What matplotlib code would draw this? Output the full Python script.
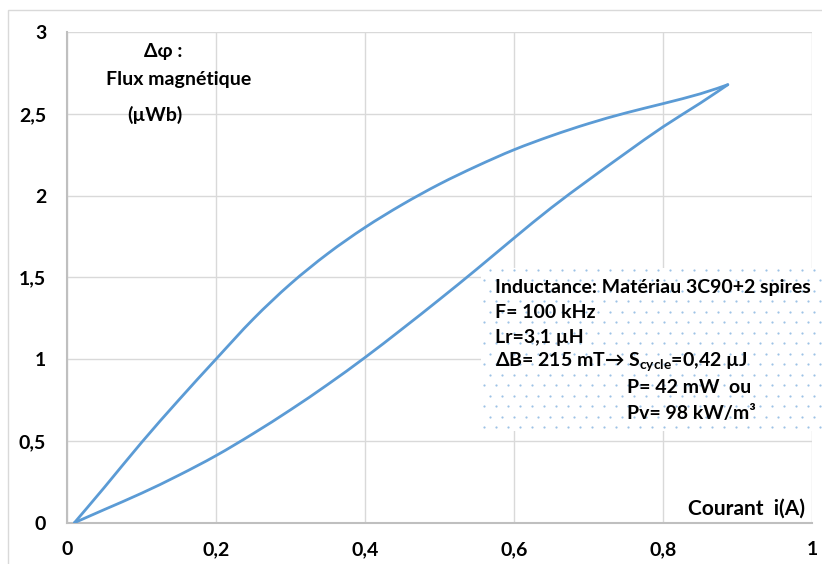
import matplotlib
matplotlib.use("Agg")
import numpy as np
import matplotlib.pyplot as plt
from matplotlib.patches import Rectangle, PathPatch
from matplotlib.path import Path

plt.rcParams['font.family'] = ['Lato', 'DejaVu Sans']
plt.rcParams['mathtext.fontset'] = 'custom'
plt.rcParams['mathtext.rm'] = 'Lato:bold'
plt.rcParams['mathtext.bf'] = 'Lato:bold'

# courant i (A) et flux (µWb) -- branche haute et branche basse du cycle
upper_i = [0.01, 0.05, 0.10, 0.15, 0.20, 0.25, 0.30, 0.35, 0.40, 0.45, 0.50,
           0.55, 0.60, 0.65, 0.70, 0.75, 0.80, 0.85, 0.887]
upper_phi = [0.0, 0.215, 0.49, 0.75, 1.00, 1.245, 1.46, 1.645, 1.805, 1.945, 2.07,
             2.18, 2.28, 2.365, 2.44, 2.505, 2.562, 2.622, 2.678]

lower_i = [0.01, 0.05, 0.10, 0.15, 0.20, 0.25, 0.30, 0.35, 0.40, 0.45, 0.50,
           0.55, 0.60, 0.65, 0.70, 0.75, 0.80, 0.85, 0.887]
lower_phi = [0.0, 0.08, 0.18, 0.29, 0.41, 0.545, 0.69, 0.845, 1.01, 1.185, 1.365,
             1.55, 1.74, 1.925, 2.095, 2.26, 2.42, 2.565, 2.678]

x_ticks = [0, 0.2, 0.4, 0.6, 0.8, 1]
x_labels = ["0", "0,2", "0,4", "0,6", "0,8", "1"]
y_ticks = [0, 0.5, 1, 1.5, 2, 2.5, 3]
y_labels = ["0", "0,5", "1", "1,5", "2", "2,5", "3"]

ylabel_lines = ["Δφ :", "Flux magnétique", "(µWb)"]

info_lines = ["Inductance: Matériau 3C90+2 spires",
              "F= 100 kHz",
              "Lr=3,1 µH",
              r"ΔB= 215 mT→ S$_{\mathbf{cycle}}$=0,42 µJ",
              "P= 42 mW  ou",
              "Pv= 98 kW/m³"]

BLUE = '#5b9bd5'
FS = 14


def smooth_path(x, y):
    # courbe lissée (Catmull-Rom -> Bézier) comme la ligne lissée d'Excel
    p = np.column_stack([x, y])
    verts = [p[0]]
    codes = [Path.MOVETO]
    for k in range(len(p) - 1):
        p0 = p[k - 1] if k > 0 else p[k]
        p3 = p[k + 2] if k + 2 < len(p) else p[k + 1]
        c1 = p[k] + (p[k + 1] - p0) / 6
        c2 = p[k + 1] - (p3 - p[k]) / 6
        verts += [c1, c2, p[k + 1]]
        codes += [Path.CURVE4] * 3
    return Path(verts, codes)


W, H = 822, 564
fig = plt.figure(figsize=(W / 100, H / 100), dpi=100)
ax = fig.add_axes([67 / W, 1 - 522.7 / H, 745 / W, (522.7 - 32) / H])

# cadre de la zone graphique
fig.patches.append(Rectangle((8 / W, -0.1), 1.2, 1 - 10 / H + 0.1,
                             transform=fig.transFigure, fill=False,
                             edgecolor='#d9d9d9', lw=1.0, zorder=0))

for xs, ys in [(upper_i, upper_phi), (lower_i, lower_phi)]:
    ax.add_patch(PathPatch(smooth_path(xs, ys), fill=False, edgecolor=BLUE,
                           lw=2.0, capstyle='round', zorder=3))

ax.set_xlim(0, 1)
ax.set_ylim(0, 3)
ax.set_xticks(x_ticks, x_labels)
ax.set_yticks(y_ticks, y_labels)
ax.tick_params(length=0, labelsize=FS, colors='black')
ax.tick_params(axis='x', pad=13)
ax.tick_params(axis='y', pad=15)
for lab in ax.get_xticklabels() + ax.get_yticklabels():
    lab.set_fontweight('bold')
ax.grid(True, color='#d9d9d9', lw=1.0)
ax.set_axisbelow(True)
for s in ['top', 'right']:
    ax.spines[s].set_visible(False)
for s in ['left', 'bottom']:
    ax.spines[s].set_color('#bfbfbf')
    ax.spines[s].set_linewidth(1.5)

# titre de l'axe vertical (3 lignes)
for txt, cx, base in zip(ylabel_lines, [163, 179, 155], [57, 85, 121]):
    fig.text(cx / W, 1 - base / H, txt, ha='center', va='baseline',
             fontsize=FS, fontweight='bold')
fig.text(805 / W, 1 - 515 / H, "Courant  i(A)", ha='right', va='baseline',
         fontsize=15, fontweight='bold')

# encadré pointillé
bx = fig.add_axes([481 / W, 1 - 431 / H, (W - 481) / W, (431 - 268) / H], zorder=4)
bx.set_xlim(0, W - 481)
bx.set_ylim(0, 431 - 268)
bx.axis('off')
bx.add_patch(Rectangle((0, 0), W - 481, 431 - 268, facecolor='white',
                       edgecolor='none', zorder=0))
rows = np.arange(4, 431 - 268, 10.5)
for r, yy in enumerate(rows):
    xx = np.arange(3 + (r % 2) * 6, W - 481, 12)
    bx.plot(xx, np.full_like(xx, yy, dtype=float), ls='none', marker='o', ms=1.6,
            mew=0, color='#9dc3e6', zorder=1)

y0 = 287
for k, line in enumerate(info_lines):
    xpix = 495 if k < 4 else 627
    fig.text(xpix / W, 1 - (y0 + 25.2 * k) / H, line, ha='left', va='center',
             fontsize=FS, fontweight='bold', zorder=5)

fig.savefig("out.png", dpi=100)
